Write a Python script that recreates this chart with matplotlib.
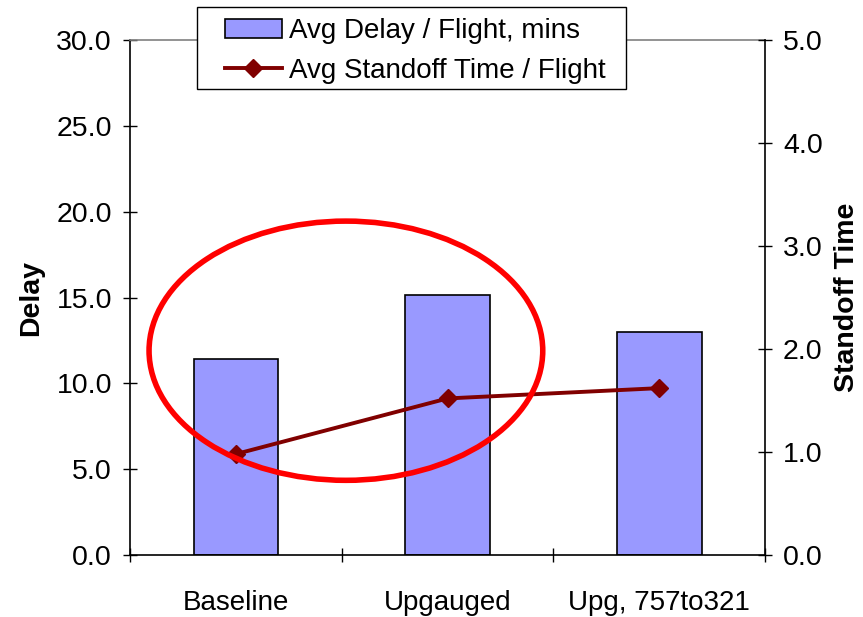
import matplotlib
matplotlib.use("Agg")
import matplotlib.pyplot as plt
from matplotlib.patches import Ellipse, Rectangle, Patch
from matplotlib.lines import Line2D

categories = ["Baseline", "Upgauged", "Upg, 757to321"]
avg_delay = [11.4, 15.15, 13.0]
avg_standoff = [0.98, 1.52, 1.62]
left_ticks = [0, 5, 10, 15, 20, 25, 30]
right_ticks = [0, 1, 2, 3, 4, 5]
legend_labels = ["Avg Delay / Flight, mins", "Avg Standoff Time / Flight"]

# highlight ellipse (annotation) in data coords of left axis
ell_center = (0.52, 11.9)
ell_width = 1.86
ell_height = 15.1

plt.rcParams['font.family'] = ['Liberation Sans', 'DejaVu Sans']

W, H = 863, 617
fig = plt.figure(figsize=(W / 100, H / 100), dpi=100)
ax = fig.add_axes([130 / W, 1 - 555 / H, (765 - 130) / W, (555 - 40) / H])
x = list(range(len(categories)))
ax.bar(x, avg_delay, width=0.4, color="#9999FF", edgecolor="black", linewidth=1.2, zorder=2)
ax.set_xlim(-0.5, 2.5)
ax.set_ylim(0, 30)
ax.set_yticks(left_ticks)
ax.set_yticklabels([f"{v:.1f}" for v in left_ticks])
ax.set_xticks([-0.5, 0.5, 1.5, 2.5])
ax.set_xticklabels([])
ax.set_xticks(x, minor=True)
ax.set_xticklabels(categories, minor=True)
ax.tick_params(axis='x', which='minor', length=0, pad=25, labelsize=20)
ax.tick_params(axis='x', which='major', direction='inout', length=10, width=1)
ax.tick_params(axis='y', direction='inout', length=10, width=1, labelsize=20.5, pad=8)
ax.set_ylabel("Delay", fontsize=20.5, fontweight='bold', labelpad=9)
for s in ['left', 'bottom']:
    ax.spines[s].set_color('black')
    ax.spines[s].set_linewidth(1.2)
ax.spines['top'].set_color('#808080')
ax.spines['top'].set_linewidth(1.2)
ax.spines['right'].set_visible(False)

ax2 = ax.twinx()
ax2.plot(x, avg_standoff, color="#800000", marker='D', markersize=9, linewidth=2.8, zorder=3)
ax2.set_ylim(0, 5)
ax2.set_yticks(right_ticks)
ax2.set_yticklabels([f"{v:.1f}" for v in right_ticks])
ax2.tick_params(axis='y', direction='inout', length=10, width=1, labelsize=20.5, pad=8)
ax2.set_ylabel("Standoff Time", fontsize=20.5, fontweight='bold', labelpad=8)
ax2.spines['right'].set_color('black')
ax2.spines['right'].set_linewidth(1.2)
for s in ['left', 'top', 'bottom']:
    ax2.spines[s].set_visible(False)
ax.set_zorder(0)
ax2.set_zorder(1)
ax2.patch.set_visible(False)

ell = Ellipse(ell_center, ell_width, ell_height, fill=False, edgecolor='#FF0000', linewidth=4, zorder=6,
              transform=ax.transData)
ax2.add_artist(ell)

# legend frame drawn at reference position
frame = Rectangle((197 / W, 1 - 89 / H), (626 - 197) / W, (89 - 7) / H, transform=fig.transFigure,
                  facecolor='white', edgecolor='black', linewidth=1.0, zorder=9)
fig.add_artist(frame)
handles = [Patch(facecolor="#9999FF", edgecolor="black", linewidth=1.2),
           Line2D([0], [0], color="#800000", marker='D', markersize=9, linewidth=2.8)]
leg = fig.legend(handles, legend_labels,
                 loc='upper left', bbox_to_anchor=(225 / W, 1 - 18 / H), fontsize=20,
                 frameon=False, borderpad=0.0, labelspacing=0.5, handlelength=2.05,
                 handletextpad=0.25, borderaxespad=0)
leg.set_zorder(10)

fig.savefig("out.png", dpi=100)
